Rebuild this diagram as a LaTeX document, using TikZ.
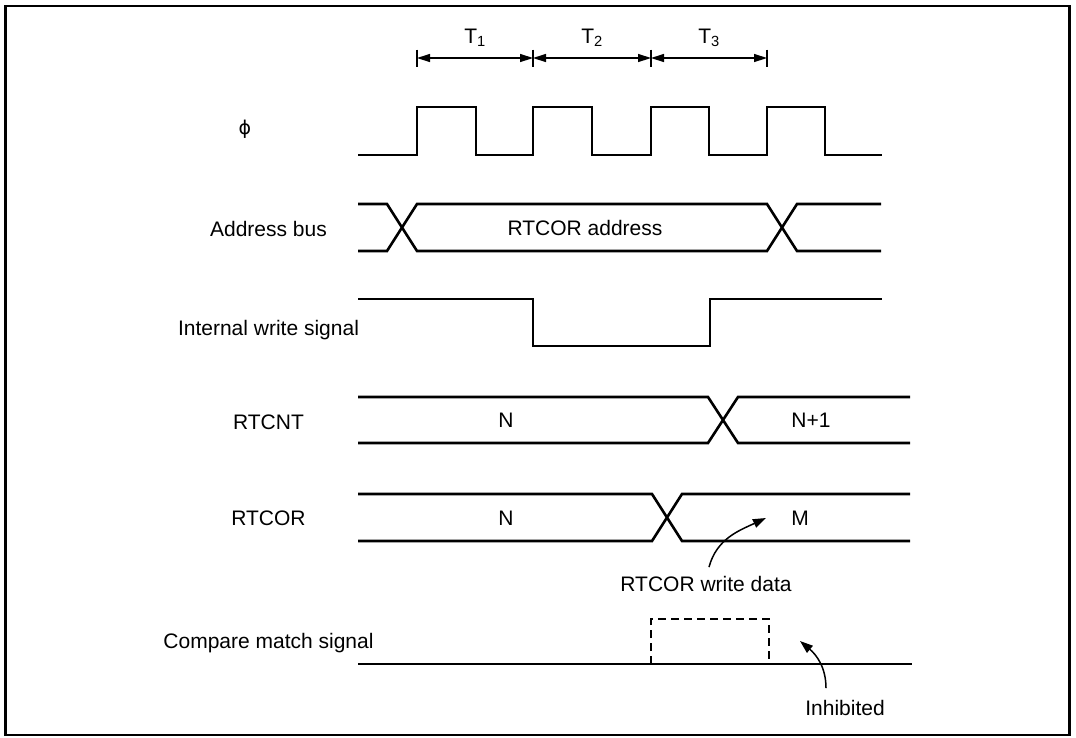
\documentclass[tikz,border=0pt]{standalone}
\usepackage{fontspec}
\setmainfont{Liberation Sans}
\newfontfamily\symfont{DejaVu Sans}
\usetikzlibrary{arrows.meta}

\begin{document}
\begin{tikzpicture}[x=1pt,y=-1pt,>={Triangle[length=13pt,width=8pt]},
  every node/.style={font=\fontsize{21}{25}\selectfont,inner sep=0pt},
  sig/.style={line width=2.6pt},
  dim/.style={<->,line width=1.4pt},
  note/.style={->,line width=1.5pt,>={Triangle[length=13pt,width=9pt]}}]
  \useasboundingbox (0,0) rectangle (1076,737);
  \draw[line width=2.2pt] (5.5,6) rectangle (1069.5,735);
  % states
  \coordinate (k0) at (417,58);
  \coordinate (k1) at (533,58);
  \coordinate (k2) at (651,58);
  \coordinate (k3) at (767,58);
  \foreach \k in {k0,k1,k2,k3}
    \draw[line width=1.4pt] ([yshift=8.5pt]\k) -- ([yshift=-8.5pt]\k);
  \draw[dim] (k0) -- (k1);
  \draw[dim] (k1) -- (k2);
  \draw[dim] (k2) -- (k3);
  \node (t1) at (475,38) {T\textsubscript{1}};
  \node (t2) at (592,38) {T\textsubscript{2}};
  \node (t3) at (709,38) {T\textsubscript{3}};
  % signal names
  \node (phi) at (245,129) {\symfont\fontsize{19}{22}\selectfont ϕ};
  \node (abus) at (268.5,229) {Address bus};
  \node (iwr) at (268.5,330) {Internal write signal};
  \node (cnt) at (268.5,422) {RTCNT};
  \node (cor) at (268.5,518) {RTCOR};
  \node (cmp) at (268.5,643) {Compare match signal};
  % clock
  \draw[sig] (358,155) -| (417,107) -| (476,155) -| (533,107) -| (592,155)
    -| (651,107) -| (709,155) -| (767,107) -| (825,155) -- (882,155);
  % address bus
  \draw[sig] (358,204) -- (387,204) -- (417,251) -- (767,251) -- (797,204) -- (881,204);
  \draw[sig] (358,251) -- (387,251) -- (417,204) -- (767,204) -- (797,251) -- (881,251);
  \node (addr) at (585,228) {RTCOR address};
  % internal write
  \draw[sig] (358,299) -| (533,346) -| (710,299) -- (882,299);
  % RTCNT
  \draw[sig] (358,397) -- (708,397) -- (738,443) -- (910,443);
  \draw[sig] (358,443) -- (708,443) -- (738,397) -- (910,397);
  \node (n1) at (506,420) {N};
  \node (n1p) at (811,420) {N+1};
  % RTCOR
  \draw[sig] (358,494) -- (652,494) -- (682,541) -- (910,541);
  \draw[sig] (358,541) -- (652,541) -- (682,494) -- (910,494);
  \node (n2) at (506,518) {N};
  \node (m) at (800,518) {M};
  \node (wdata) at (706,584) {RTCOR write data};
  \coordinate (wtip) at (766,518);
  \draw[note] ([xshift=3pt,yshift=9pt]wdata.north) to[out=75,in=205] (wtip);
  % compare match
  \draw[sig] (358,664) -- (912,664);
  \draw[line width=1.5pt,dash pattern=on 8pt off 5pt] (651,664) -- (651,619) -- (769,619) -- (769,664);
  \node (inh) at (845,708) {Inhibited};
  \coordinate (itip) at (800,641);
  \draw[note] ([xshift=-19pt,yshift=12pt]inh.north) to[out=90,in=-40] (itip);
\end{tikzpicture}
\end{document}
